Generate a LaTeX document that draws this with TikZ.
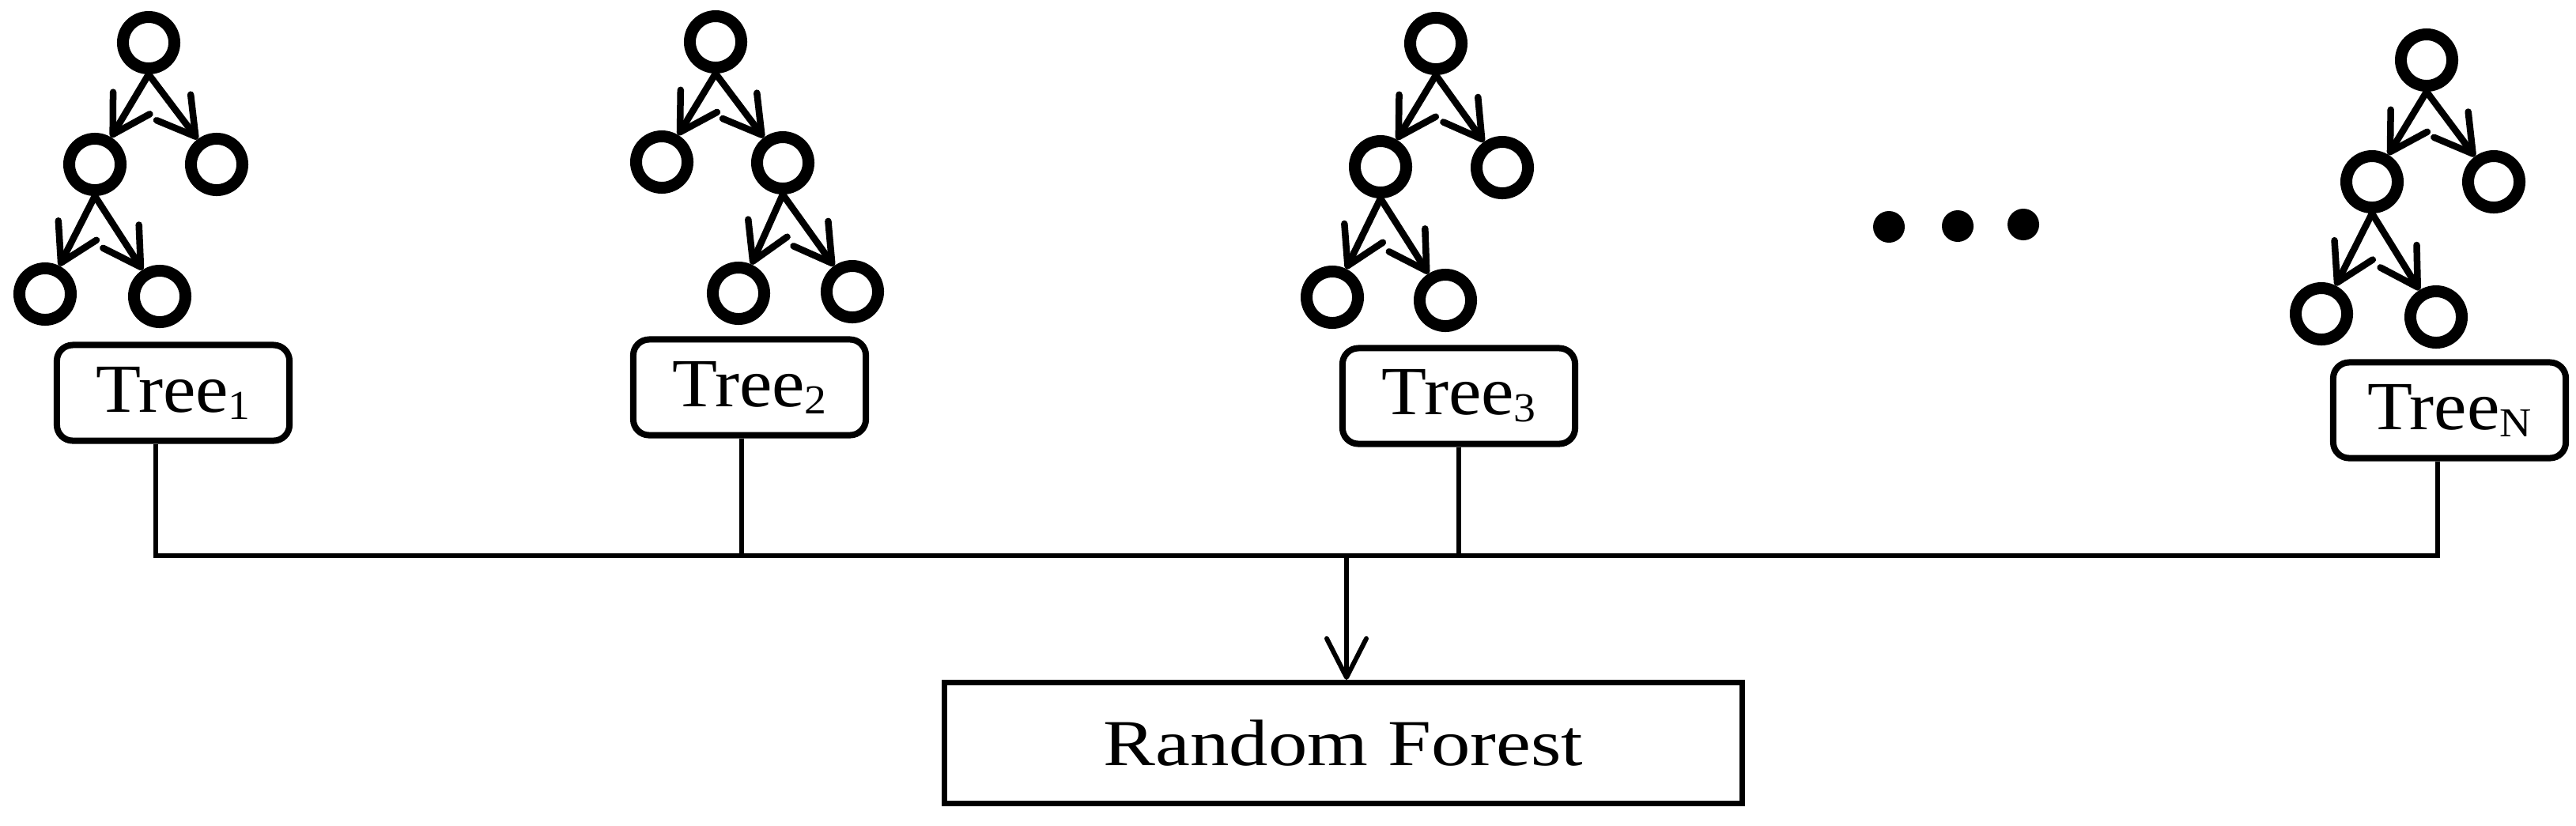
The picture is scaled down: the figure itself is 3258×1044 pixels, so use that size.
\documentclass[tikz,border=0pt]{standalone}
\usepackage{fontspec}
\setmainfont{Liberation Serif}
\newfontfamily\treefont[FakeStretch=1.07]{Liberation Serif}
\newfontfamily\rffont[FakeStretch=1.19]{Liberation Serif}
\usetikzlibrary{arrows.meta}
\newcommand\treelab[1]{\treefont\fontsize{24.8pt}{28pt}\selectfont Tree\raisebox{-2.6pt}{\fontsize{14.8pt}{16pt}\selectfont #1}}
\begin{document}
\begin{tikzpicture}[x=0.01cm,y=-0.01cm,
  tnode/.style={circle,draw,line width=0.15cm,minimum size=0.65cm,inner sep=0pt},
  tedge/.style={line width=0.085cm,line cap=round,line join=round,
    -{Straight Barb[length=0.46cm,width=0.54cm,line cap=round,line join=round]}},
  tbox/.style={draw,rounded corners=0.2cm,line width=0.08cm,minimum width=2.94cm,
    minimum height=1.21cm,inner sep=0pt},
  link/.style={line width=0.06cm},
  mainarr/.style={line width=0.06cm,
    -{Straight Barb[length=0.49cm,width=0.5cm,line cap=round,line join=round]}},
  dotnode/.style={circle,fill,minimum size=0.4cm,inner sep=0pt},
  rfbox/.style={draw,line width=0.07cm,minimum width=10.09cm,minimum height=1.53cm,inner sep=0pt}
]
\useasboundingbox (0,0) rectangle (3258,1044);

% Tree 1
\node[tnode] (a0) at (188,54) {};
\node[tnode] (a1) at (120,208) {};
\node[tnode] (a2) at (274,208) {};
\node[tnode] (a3) at (57,372) {};
\node[tnode] (a4) at (202,375) {};
\draw[tedge] (a0.south) -- (a1);
\draw[tedge] (a0.south) -- (a2);
\draw[tedge] (a1.south) -- (a3);
\draw[tedge] (a1.south) -- (a4);
\node[tbox] (b1) at (219,497) {\treelab{1}};

% Tree 2
\node[tnode] (c0) at (905,53) {};
\node[tnode] (c1) at (837,205) {};
\node[tnode] (c2) at (990,206) {};
\node[tnode] (c3) at (934,371) {};
\node[tnode] (c4) at (1078,369) {};
\draw[tedge] (c0.south) -- (c1);
\draw[tedge] (c0.south) -- (c2);
\draw[tedge] (c2.south) -- (c3);
\draw[tedge] (c2.south) -- (c4);
\node[tbox] (b2) at (948,490) {\treelab{2}};

% Tree 3
\node[tnode] (e0) at (1816,55) {};
\node[tnode] (e1) at (1746,211) {};
\node[tnode] (e2) at (1900,212) {};
\node[tnode] (e3) at (1685,376) {};
\node[tnode] (e4) at (1828,380) {};
\draw[tedge] (e0.south) -- (e1);
\draw[tedge] (e0.south) -- (e2);
\draw[tedge] (e1.south) -- (e3);
\draw[tedge] (e1.south) -- (e4);
\node[tbox] (b3) at (1845,501) {\treelab{3}};

% Tree N
\node[tnode] (g0) at (3069,76) {};
\node[tnode] (g1) at (3000,230) {};
\node[tnode] (g2) at (3154,230) {};
\node[tnode] (g3) at (2936,397) {};
\node[tnode] (g4) at (3081,401) {};
\draw[tedge] (g0.south) -- (g1);
\draw[tedge] (g0.south) -- (g2);
\draw[tedge] (g1.south) -- (g3);
\draw[tedge] (g1.south) -- (g4);
\node[tbox] (bN) at (3098,519) {\treelab{N}};

% dots
\node[dotnode] (d1) at (2389,287) {};
\node[dotnode] (d2) at (2476,286) {};
\node[dotnode] (d3) at (2559,284) {};

% Random forest
\node[rfbox] (rf) at (1699,940) {\rffont\fontsize{23.6pt}{26pt}\selectfont Random Forest};

% connectors
\coordinate (j1) at (197,703);
\coordinate (j2) at (938,703);
\coordinate (j3) at (1845,703);
\coordinate (jN) at (3083,703);
\coordinate (ja) at (1703,703);
\draw[link] (b1.south -| j1) -- (j1) -- (jN) -- (bN.south -| jN);
\draw[link] (b2.south -| j2) -- (j2);
\draw[link] (b3.south -| j3) -- (j3);
\draw[mainarr] (ja) -- (rf.north -| ja);
\end{tikzpicture}
\end{document}
